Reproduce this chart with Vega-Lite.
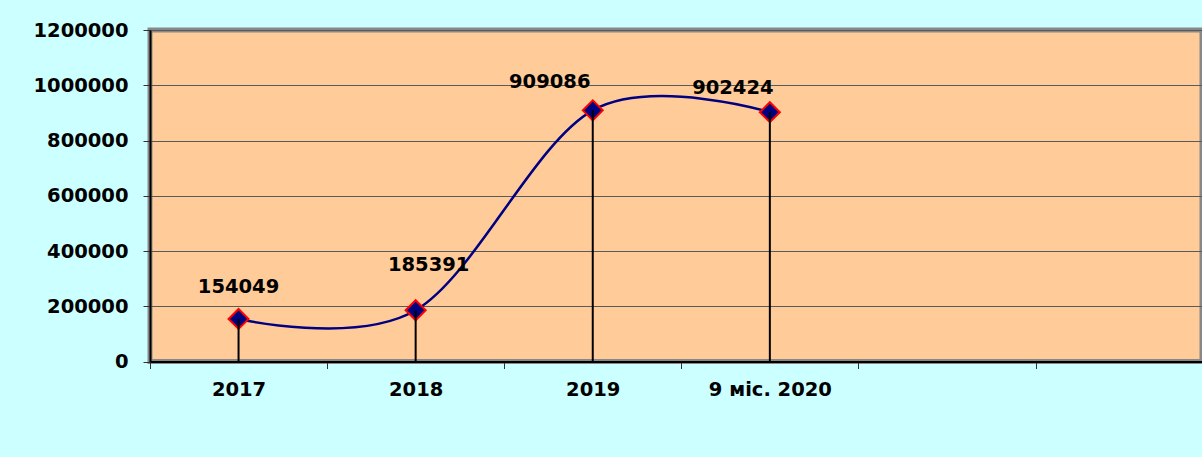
{
  "$schema": "https://vega.github.io/schema/vega-lite/v6.json",
  "autosize": "none",
  "width": 1052,
  "height": 331.5,
  "padding": {"left": 150, "top": 30, "right": 0, "bottom": 95.5},
  "background": "#CCFFFF",
  "config": {
    "view": {"fill": "#FFCC99", "stroke": "#888888", "strokeWidth": 5},
    "font": "DejaVu Sans"
  },
  "data": {
    "values": [
      {"period": "2017", "value": 154049},
      {"period": "2018", "value": 185391},
      {"period": "2019", "value": 909086},
      {"period": "9 міс. 2020", "value": 902424}
    ]
  },
  "encoding": {
    "x": {
      "field": "period",
      "type": "ordinal",
      "sort": null,
      "scale": {
        "type": "band",
        "domain": ["2017", "2018", "2019", "9 міс. 2020", " ", "  "],
        "range": [0, 1062.6],
        "paddingInner": 0,
        "paddingOuter": 0
      },
      "axis": {
        "title": null,
        "labelAngle": 0,
        "labelFont": "DejaVu Sans",
        "labelFontSize": 19.5,
        "labelFontWeight": "bold",
        "labelColor": "#000000",
        "labelPadding": 12,
        "tickBand": "extent",
        "tickSize": 7,
        "tickColor": "#333333",
        "domainColor": "#000000",
        "domainWidth": 2,
        "grid": false
      }
    },
    "y": {
      "field": "value",
      "type": "quantitative",
      "scale": {"domain": [0, 1200000], "nice": false},
      "axis": {
        "title": null,
        "values": [0, 200000, 400000, 600000, 800000, 1000000, 1200000],
        "format": "d",
        "labelFont": "DejaVu Sans",
        "labelFontSize": 19.5,
        "labelFontWeight": "bold",
        "labelColor": "#000000",
        "labelPadding": 15,
        "tickSize": 7,
        "tickColor": "#333333",
        "domainColor": "#000000",
        "domainWidth": 2,
        "grid": true,
        "gridColor": "#5a5a5a",
        "gridWidth": 1
      }
    }
  },
  "layer": [
    {
      "mark": {"type": "line", "interpolate": "cardinal", "color": "#000080", "strokeWidth": 2.5}
    },
    {
      "mark": {"type": "point", "shape": "diamond", "size": 400, "filled": true, "fill": "#000080", "stroke": "#FF0000", "strokeWidth": 2, "opacity": 1}
    },
    {
      "mark": {"type": "rule", "color": "#000000", "strokeWidth": 2},
      "encoding": {"y2": {"datum": 0}}
    },
    {
      "transform": [{"filter": "datum.period == '2017'"}],
      "mark": {"type": "text", "font": "DejaVu Sans", "fontSize": 19.5, "fontWeight": "bold", "color": "#000000", "baseline": "middle", "dx": 0, "dy": -32},
      "encoding": {"text": {"field": "value", "type": "quantitative", "format": "d"}}
    },
    {
      "transform": [{"filter": "datum.period == '2018'"}],
      "mark": {"type": "text", "font": "DejaVu Sans", "fontSize": 19.5, "fontWeight": "bold", "color": "#000000", "baseline": "middle", "dx": 13, "dy": -45},
      "encoding": {"text": {"field": "value", "type": "quantitative", "format": "d"}}
    },
    {
      "transform": [{"filter": "datum.period == '2019'"}],
      "mark": {"type": "text", "font": "DejaVu Sans", "fontSize": 19.5, "fontWeight": "bold", "color": "#000000", "baseline": "middle", "dx": -43, "dy": -28},
      "encoding": {"text": {"field": "value", "type": "quantitative", "format": "d"}}
    },
    {
      "transform": [{"filter": "datum.period == '9 міс. 2020'"}],
      "mark": {"type": "text", "font": "DejaVu Sans", "fontSize": 19.5, "fontWeight": "bold", "color": "#000000", "baseline": "middle", "dx": -37, "dy": -24},
      "encoding": {"text": {"field": "value", "type": "quantitative", "format": "d"}}
    }
  ]
}
